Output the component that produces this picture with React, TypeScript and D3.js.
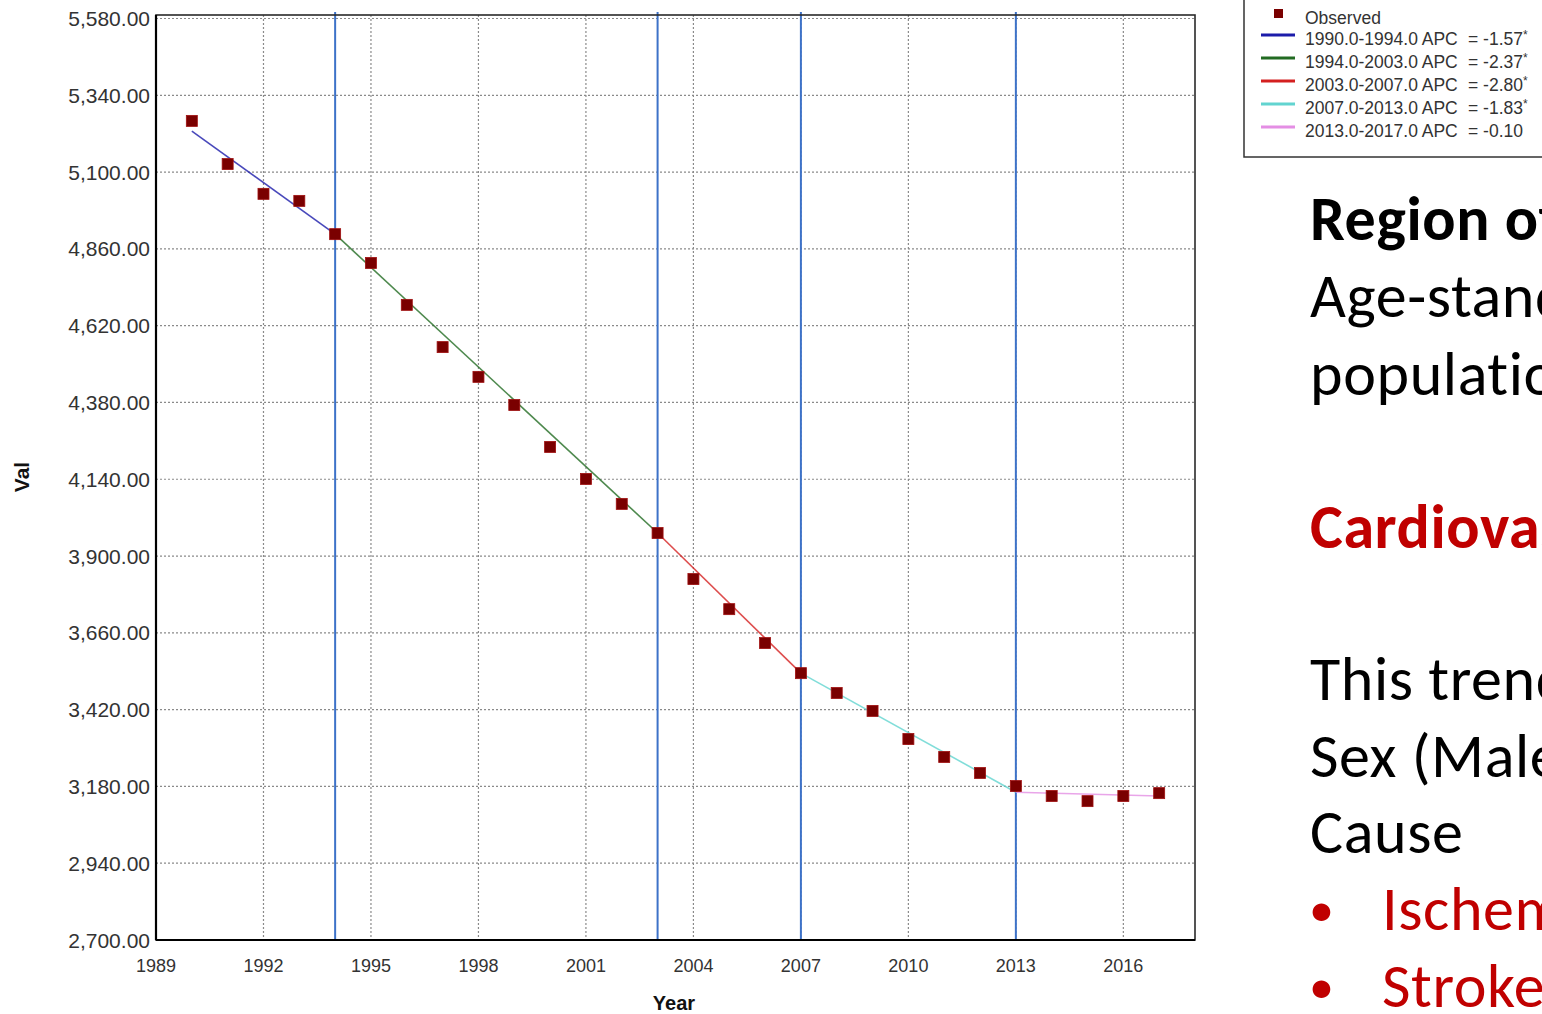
import React from 'react';
import * as d3 from 'd3';

const years: number[] = [1990, 1991, 1992, 1993, 1994, 1995, 1996, 1997, 1998, 1999, 2000, 2001, 2002, 2003, 2004, 2005, 2006, 2007, 2008, 2009, 2010, 2011, 2012, 2013, 2014, 2015, 2016, 2017];
const observed: number[] = [5260, 5125, 5032, 5010, 4906, 4816, 4685, 4553, 4460, 4372, 4241, 4141, 4063, 3972, 3828, 3734, 3628, 3534, 3472, 3416, 3328, 3272, 3222, 3181, 3150, 3134, 3150, 3159];

// joinpoint segments: start/end year and fitted value
const segStart: number[] = [1990, 1994, 2003, 2007, 2013];
const segEnd: number[] = [1994, 2003, 2007, 2013, 2017];
const fitStart: number[] = [5228, 4906, 3972, 3534, 3162];
const fitEnd: number[] = [4906, 3972, 3534, 3162, 3150];
const apc: string[] = ['-1.57', '-2.37', '-2.80', '-1.83', '-0.10'];
const apcSig: boolean[] = [true, true, true, true, false];
const segColors: string[] = ['#1c1caa', '#226b22', '#d42020', '#62d4d0', '#e48ee4'];
const joinpoints: number[] = [1994, 2003, 2007, 2013];

const yTicks: number[] = [5580, 5340, 5100, 4860, 4620, 4380, 4140, 3900, 3660, 3420, 3180, 2940, 2700];
const xTicks: number[] = [1989, 1992, 1995, 1998, 2001, 2004, 2007, 2010, 2013, 2016];

const W = 1542;
const H = 1014;
const plot = { left: 156, right: 1195, top: 15, bottom: 940 };

const axisFont = '"Liberation Sans", Arial, sans-serif';
const slideFont = 'Carlito, Calibri, Lato, sans-serif';

export default function App() {
  const x = d3.scaleLinear().domain([1989, 2018]).range([plot.left, plot.right]);
  const y = d3.scaleLinear().domain([2700, 5580]).range([940, 18.5]);

  const line = d3.line<[number, number]>()
    .x((d) => x(d[0]))
    .y((d) => y(d[1]));

  const fmt = d3.format(',.2f');

  return (
    <svg width={W} height={H} style={{ position: 'absolute', left: 0, top: 0, background: '#fff' }}>
      {/* gridlines */}
      {yTicks.map((t) => (
        <line key={'gy' + t} x1={plot.left} x2={plot.right} y1={y(t)} y2={y(t)}
          stroke="#8a8a8a" strokeWidth={1.2} strokeDasharray="2,2" />
      ))}
      {xTicks.filter((t) => t > 1989).map((t) => (
        <line key={'gx' + t} x1={x(t)} x2={x(t)} y1={plot.top} y2={plot.bottom}
          stroke="#8a8a8a" strokeWidth={1.2} strokeDasharray="2,2" />
      ))}

      {/* joinpoint markers */}
      {joinpoints.map((j) => (
        <line key={'jp' + j} x1={x(j)} x2={x(j)} y1={12} y2={plot.bottom}
          stroke="#3d72c8" strokeWidth={2} />
      ))}

      {/* frame */}
      <rect x={plot.left} y={plot.top} width={plot.right - plot.left} height={plot.bottom - plot.top}
        fill="none" stroke="#2a2a2a" strokeWidth={1.6} />
      <line x1={plot.left} x2={plot.left} y1={plot.top} y2={plot.bottom} stroke="#000" strokeWidth={2.2} />
      <line x1={plot.left} x2={plot.right} y1={plot.bottom} y2={plot.bottom} stroke="#000" strokeWidth={2.2} />

      {/* fitted segments */}
      {segStart.map((s, i) => (
        <path key={'seg' + i}
          d={line([[s, fitStart[i]], [segEnd[i], fitEnd[i]]]) || ''}
          fill="none" stroke={segColors[i]} strokeWidth={1.6} strokeOpacity={0.8} />
      ))}

      {/* observed points */}
      {years.map((yr, i) => (
        <rect key={'pt' + yr} x={x(yr) - 5.5} y={y(observed[i]) - 5.5} width={11} height={11}
          fill="#7a0000" stroke="#a01010" strokeWidth={0.8} />
      ))}

      {/* y axis labels */}
      {yTicks.map((t) => (
        <text key={'yl' + t} x={150} y={y(t) + 7.5} textAnchor="end"
          fontFamily={axisFont} fontSize={21} fill="#333">{fmt(t)}</text>
      ))}
      {/* x axis labels */}
      {xTicks.map((t) => (
        <text key={'xl' + t} x={x(t)} y={972} textAnchor="middle"
          fontFamily={axisFont} fontSize={18} fill="#333">{t}</text>
      ))}

      <text x={674} y={1010} textAnchor="middle" fontFamily={axisFont} fontSize={20}
        fontWeight="bold" fill="#111">Year</text>
      <text transform="translate(29,477) rotate(-90)" textAnchor="middle" fontFamily={axisFont}
        fontSize={21} fontWeight="bold" fill="#111">Val</text>

      {/* legend */}
      <rect x={1244} y={-2} width={320} height={159} fill="#fff" stroke="#333" strokeWidth={1.5} />
      <rect x={1274} y={9} width={9} height={9} fill="#7a0000" />
      <text x={1305} y={24} fontFamily={axisFont} fontSize={17.5} fill="#333">Observed</text>
      {segStart.map((s, i) => {
        const ly = 35 + i * 23;
        return (
          <g key={'lg' + i}>
            <line x1={1261} x2={1295} y1={ly} y2={ly} stroke={segColors[i]} strokeWidth={3} />
            <text x={1305} y={ly + 10} fontFamily={axisFont} fontSize={17.5} fill="#333">
              {`${s.toFixed(1)}-${segEnd[i].toFixed(1)} APC`}
              <tspan x={1468}>{`= ${apc[i]}`}</tspan>
              {apcSig[i] && <tspan fontSize={12} dy={-6}>*</tspan>}
            </text>
          </g>
        );
      })}

      {/* slide text */}
      <g fontFamily={slideFont} fontSize={62} letterSpacing={0.6}>
        <text x={1310} y={240} fontWeight="bold" fill="#000">Region of the Americas</text>
        <text x={1310} y={317} fill="#000">Age-standardized rate per 100,000</text>
        <text x={1310} y={395} fill="#000">population</text>
        <text x={1310} y={548} fontWeight="bold" fill="#c00000">Cardiovascular diseases</text>
        <text x={1310} y={700} fill="#000">This trend is similar for</text>
        <text x={1310} y={777} fill="#000">Sex (Male / Female)</text>
        <text x={1310} y={853} fill="#000">Cause</text>
        <text x={1309} y={926} fontSize={50} fill="#c00000">•</text>
        <text x={1382} y={930} fill="#c00000">Ischemic heart disease</text>
        <text x={1309} y={1003} fontSize={50} fill="#c00000">•</text>
        <text x={1382} y={1007} fill="#c00000">Stroke</text>
      </g>
    </svg>
  );
}
